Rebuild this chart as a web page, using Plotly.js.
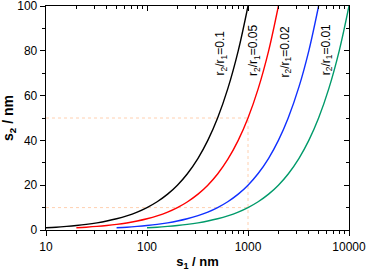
<!DOCTYPE html>
<html><head><meta charset="utf-8">
<script src="https://cdn.plot.ly/plotly-3.0.1.min.js"></script>
<style>html,body{margin:0;padding:0;background:#fff}#c{width:367px;height:276px}</style>
</head><body><div id="c"></div>
<script>
const blackS1 = [10,12.6,16,20,25,32,40,50,63,80,100,126,160,200,250,320,400,500,630,800,1000];
const blackS2 = [1,1.26,1.6,2,2.5,3.2,4,5,6.3,8,10,12.6,16,20,25,32,40,50,63,80,100];
const redS1 = [20,25,32,40,50,63,80,100,126,160,200,250,320,400,500,630,800,1000,1260,1600,2000];
const redS2 = [1,1.25,1.6,2,2.5,3.15,4,5,6.3,8,10,12.5,16,20,25,31.5,40,50,63,80,100];
const blueS1 = [50,63,80,100,126,160,200,250,320,400,500,630,800,1000,1260,1600,2000,2500,3200,4000,5000];
const blueS2 = [1,1.26,1.6,2,2.52,3.2,4,5,6.4,8,10,12.6,16,20,25.2,32,40,50,64,80,100];
const greenS1 = [100,126,160,200,250,320,400,500,630,800,1000,1260,1600,2000,2500,3200,4000,5000,6300,8000,10000];
const greenS2 = [1,1.26,1.6,2,2.5,3.2,4,5,6.3,8,10,12.6,16,20,25,32,40,50,63,80,100];
const ratioLabels = ['r<sub>2</sub>/r<sub>1</sub>=0.1','r<sub>2</sub>/r<sub>1</sub>=0.05','r<sub>2</sub>/r<sub>1</sub>=0.02','r<sub>2</sub>/r<sub>1</sub>=0.01'];
const labelX = [545, 1150, 2350, 6000];
const labelY = [79, 80, 79.5, 80.5];
const guideX = [10, 1000, 1000];
const guideY50 = [50, 50, 0];
const guideX10 = [10, 1000];
const guideY10 = [10, 10];
const xTickVals = [10, 100, 1000, 10000];
const xTickText = ['10', '100', '1000', '10000'];

const colors = ['#000000', '#ff0000', '#1030ff', '#009a6a'];
const guideLine = {color: '#ffd0b0', width: 1, dash: 'dot'};
const traces = [
  {x: guideX, y: guideY50, mode: 'lines', line: guideLine, hoverinfo: 'skip'},
  {x: guideX10, y: guideY10, mode: 'lines', line: guideLine, hoverinfo: 'skip'},
  {x: blackS1, y: blackS2, mode: 'lines', line: {color: colors[0], width: 1.4, shape: 'spline'}},
  {x: redS1, y: redS2, mode: 'lines', line: {color: colors[1], width: 1.4, shape: 'spline'}},
  {x: blueS1, y: blueS2, mode: 'lines', line: {color: colors[2], width: 1.4, shape: 'spline'}},
  {x: greenS1, y: greenS2, mode: 'lines', line: {color: colors[3], width: 1.4, shape: 'spline'}},
  {x: [], y: [], xaxis: 'x2', yaxis: 'y2', mode: 'lines', hoverinfo: 'skip'}
];
const fnt = {family: 'Liberation Sans, Arial, sans-serif', size: 12, color: '#000'};
const annotations = ratioLabels.map((t, i) => ({
  x: Math.log10(labelX[i]), y: labelY[i], xref: 'x', yref: 'y', text: t, showarrow: false,
  textangle: -90, font: {family: fnt.family, size: 12, color: '#000'}
}));
const layout = {
  width: 367, height: 276, showlegend: false,
  margin: {l: 46, r: 18, t: 6, b: 46},
  paper_bgcolor: '#fff', plot_bgcolor: '#fff',
  font: fnt,
  xaxis: {type: 'log', range: [1, 4], tickvals: xTickVals, ticktext: xTickText,
    ticks: 'outside', ticklen: 5, tickwidth: 1, tickcolor: '#000',
    showgrid: false, zeroline: false, showline: true, linecolor: '#000', linewidth: 1.3,
    minor: {ticks: 'outside', ticklen: 3, tickwidth: 1, tickcolor: '#000', dtick: 'D1', showgrid: false},
    tickfont: fnt, ticklabeloverflow: 'allow',
    title: {text: '<b>s<sub>1</sub> / nm</b>', font: {family: fnt.family, size: 13}, standoff: 4}},
  yaxis: {range: [0, 100], dtick: 20, ticks: 'outside', ticklen: 5, tickwidth: 1, tickcolor: '#000',
    showgrid: false, zeroline: false, showline: true, linecolor: '#000', linewidth: 1.3,
    minor: {ticks: 'outside', ticklen: 3, tickwidth: 1, tickcolor: '#000', dtick: 10, showgrid: false},
    tickfont: fnt, ticklabeloverflow: 'allow',
    title: {text: '<b>s<sub>2</sub> / nm</b>', font: {family: fnt.family, size: 14}, standoff: 5}},
  xaxis2: {type: 'log', range: [1, 4], overlaying: 'x', side: 'top', anchor: 'y2',
    tickvals: xTickVals, showticklabels: false, ticks: 'inside', ticklen: 5, tickwidth: 1, tickcolor: '#000',
    minor: {ticks: 'inside', ticklen: 3, tickwidth: 1, tickcolor: '#000', dtick: 'D1', showgrid: false},
    showgrid: false, zeroline: false, showline: true, linecolor: '#000', linewidth: 1.3},
  yaxis2: {range: [0, 100], overlaying: 'y', side: 'right', anchor: 'x2', dtick: 20,
    showticklabels: false, ticks: 'inside', ticklen: 5, tickwidth: 1, tickcolor: '#000',
    minor: {ticks: 'inside', ticklen: 3, tickwidth: 1, tickcolor: '#000', dtick: 10, showgrid: false},
    showgrid: false, zeroline: false, showline: true, linecolor: '#000', linewidth: 1.3},
  annotations: annotations
};
Plotly.newPlot('c', traces, layout, {staticPlot: true, displayModeBar: false});
</script></body></html>
